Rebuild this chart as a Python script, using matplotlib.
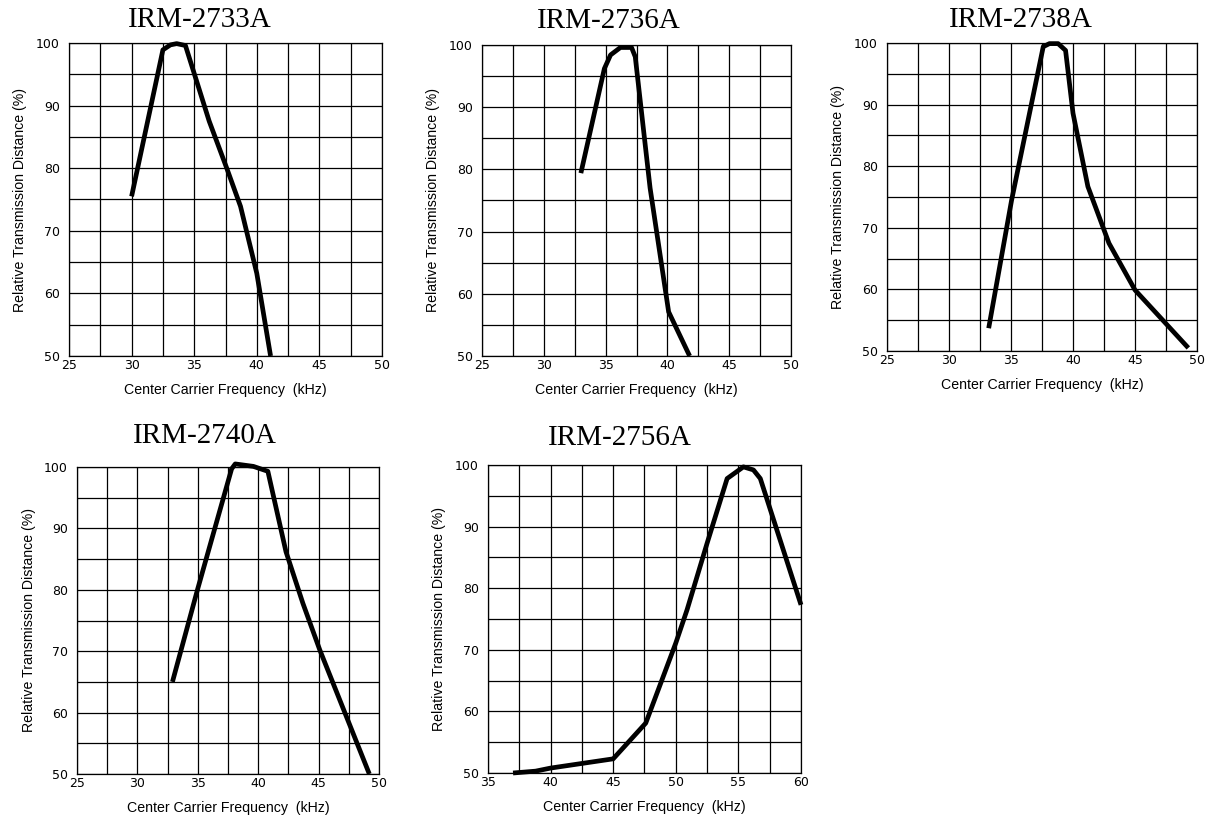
import matplotlib
matplotlib.use("Agg")
import matplotlib.pyplot as plt
from matplotlib.ticker import MultipleLocator

# Datos (kHz, % distancia relativa)
titulos = ["IRM-2733A", "IRM-2736A", "IRM-2738A", "IRM-2740A", "IRM-2756A"]

x_2733 = [30.0, 32.5, 33.1, 33.6, 34.3, 36.2, 37.6, 38.7, 40.0, 41.1]
y_2733 = [75.5, 98.9, 99.7, 99.9, 99.6, 87.5, 80.0, 73.9, 63.2, 50.0]

x_2736 = [33.0, 34.9, 35.4, 36.2, 37.1, 37.4, 38.6, 40.1, 41.8]
y_2736 = [79.4, 96.2, 98.4, 99.6, 99.6, 98.1, 77.0, 57.1, 50.0]

x_2738 = [33.2, 35.05, 37.6, 38.1, 38.8, 39.4, 40.0, 41.2, 42.9, 45.0, 49.3]
y_2738 = [53.7, 74.5, 99.4, 99.9, 99.9, 98.8, 88.6, 76.7, 67.5, 59.9, 50.5]

x_2740 = [32.9, 35.0, 37.8, 38.1, 39.6, 40.8, 42.3, 43.7, 45.1, 49.2]
y_2740 = [65.0, 80.2, 99.7, 100.5, 100.1, 99.3, 86.2, 77.8, 70.2, 50.0]

x_2756 = [37.0, 38.8, 40.0, 45.0, 47.6, 48.8, 50.0, 50.9, 52.5, 54.1, 55.4, 56.2, 56.75, 60.0]
y_2756 = [50.0, 50.3, 50.8, 52.3, 58.1, 64.6, 71.1, 76.5, 87.3, 97.8, 99.7, 99.2, 97.8, 77.3]

rangos_x = [(25, 50), (25, 50), (25, 50), (25, 50), (35, 60)]

etiqueta_x = "Center Carrier Frequency  (kHz)"
etiqueta_y = "Relative Transmission Distance (%)"

W, H = 1207, 822


def px(l, t, r, b):
    """Convierte una caja en pixeles (arriba-izquierda) a fraccion de figura"""
    return [l / W, 1 - b / H, (r - l) / W, (b - t) / H]


def dibujar_panel(fig, caja, x, y, xr, titulo, titulo_xy):
    ax = fig.add_axes(px(*caja))
    ax.plot(x, y, color="black", lw=3.4, solid_joinstyle="round",
            solid_capstyle="butt", clip_on=False, zorder=3)
    ax.set_xlim(*xr)
    ax.set_ylim(50, 100)
    ax.xaxis.set_major_locator(MultipleLocator(5))
    ax.xaxis.set_minor_locator(MultipleLocator(2.5))
    ax.yaxis.set_major_locator(MultipleLocator(10))
    ax.yaxis.set_minor_locator(MultipleLocator(5))
    ax.grid(which="both", color="black", lw=0.9)
    ax.set_axisbelow(True)
    ax.tick_params(which="both", length=0)
    ax.tick_params(axis="x", pad=2, labelsize=9)
    ax.tick_params(axis="y", pad=6.5, labelsize=9)
    for lab in ax.get_xticklabels() + ax.get_yticklabels():
        lab.set_family("DejaVu Sans")
    for s in ax.spines.values():
        s.set_color("black")
        s.set_linewidth(0.9)
    ax.set_xlabel(etiqueta_x, fontsize=10.2, family="Liberation Sans")
    ax.set_ylabel(etiqueta_y, fontsize=10.2, family="Liberation Sans")
    ax.yaxis.set_label_coords(-0.135, 0.5)
    ax.xaxis.labelpad = 8
    fig.text(titulo_xy[0] / W, 1 - titulo_xy[1] / H, titulo, ha="center",
             va="baseline", fontsize=21, family="Liberation Serif")
    return ax


if __name__ == "__main__":
    fig = plt.figure(figsize=(W / 100, H / 100), dpi=100)

    cajas = [(69, 43, 382, 356), (482, 45, 791, 356), (887, 43, 1197, 351),
             (77, 467, 379, 774), (488, 465, 801, 773)]
    pos_titulos = [(200, 27), (609, 28), (1021, 27), (205, 443), (620, 445)]
    series = [(x_2733, y_2733), (x_2736, y_2736), (x_2738, y_2738),
              (x_2740, y_2740), (x_2756, y_2756)]

    for i, (x, y) in enumerate(series):
        dibujar_panel(fig, cajas[i], x, y, rangos_x[i], titulos[i], pos_titulos[i])

    fig.savefig("out.png", dpi=100, facecolor="white")
